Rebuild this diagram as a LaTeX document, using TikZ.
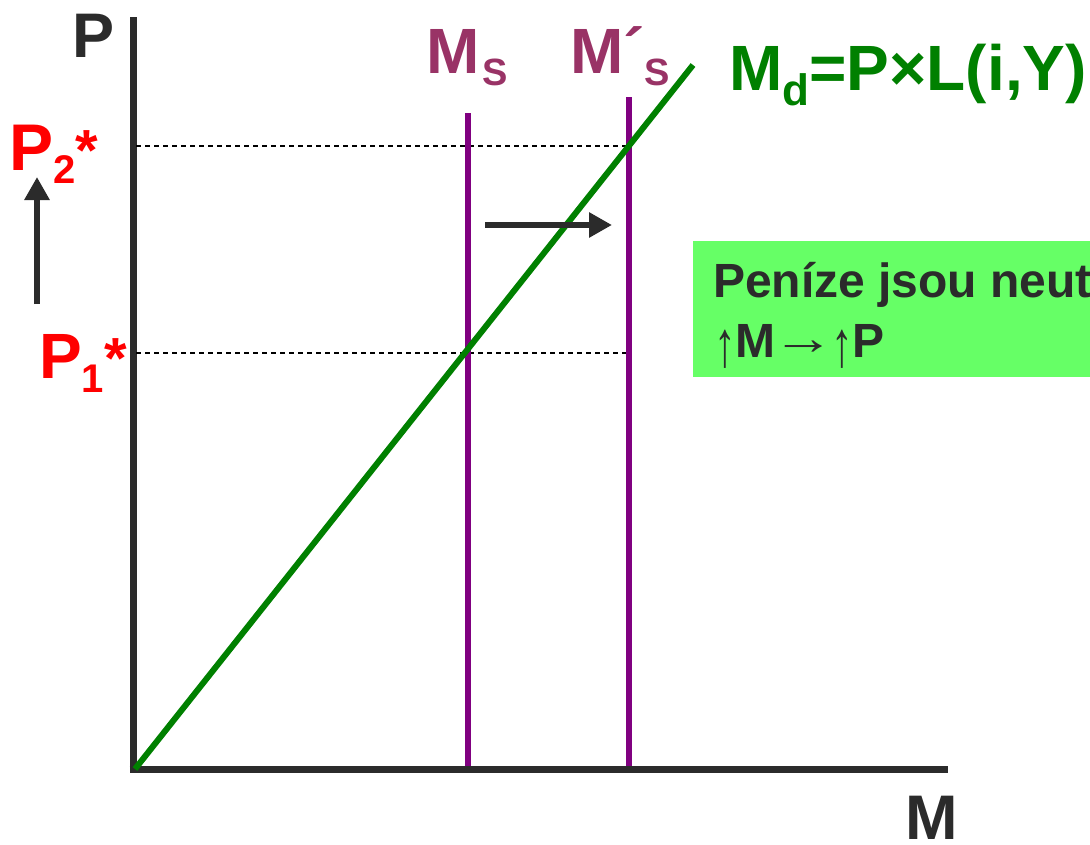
\documentclass[tikz,border=0pt]{standalone}
\usepackage{fontspec}
\setmainfont{Liberation Sans}
\usetikzlibrary{arrows.meta}
\definecolor{ink}{HTML}{2B2B2B}
\definecolor{dgreen}{HTML}{008000}
\definecolor{purp}{HTML}{800080}
\definecolor{mlabel}{HTML}{993366}
\definecolor{boxgreen}{HTML}{66FF66}
\tikzset{
  axis/.style={line width=7pt, ink},
  supply/.style={line width=6pt, purp},
  demand/.style={line width=6pt, dgreen},
  guide/.style={line width=1.1pt, black, dash pattern=on 5pt off 4pt},
  movearrow/.style={line width=6.5pt, ink, -{Triangle[length=23pt,width=24pt]}},
  lbl/.style={inner sep=0pt, anchor=base west, font=\bfseries},
}
\newcommand{\fs}[1]{\fontsize{#1}{#1}\selectfont}
\newcommand{\uparr}{\raisebox{-9pt}{\scalebox{0.9}[1.35]{↑}}}
\newcommand{\rarr}{\kern-3pt\raisebox{3pt}{\scalebox{1.3}[1]{→}}\kern-4pt}
\begin{document}
\begin{tikzpicture}[x=1pt,y=-1pt]
\useasboundingbox (0,0) rectangle (1090,844);
\clip (0,0) rectangle (1090,844);
% axes
\coordinate (O) at (133,769);
\coordinate (Ptop) at (133,17);
\coordinate (Pbot) at (133,772.5);
\coordinate (Mstart) at (129.5,769);
\coordinate (Mend) at (948,769);
\draw[axis] (Ptop) -- (Pbot);
\draw[axis] (Mstart) -- (Mend);
% dashed guides
\coordinate (g2a) at (136,146); \coordinate (g2b) at (627,146);
\coordinate (g1a) at (136,353); \coordinate (g1b) at (627,353);
\draw[guide] (g2a) -- (g2b);
\draw[guide] (g1a) -- (g1b);
% supply lines
\coordinate (s1t) at (468,113); \coordinate (s1b) at (468,766);
\coordinate (s2t) at (629,97);  \coordinate (s2b) at (629,766);
\draw[supply] (s1t) -- (s1b);
\draw[supply] (s2t) -- (s2b);
% demand line
\coordinate (dA) at (135,769); \coordinate (dB) at (693,65);
\draw[demand] (dA) -- (dB);
% shift arrows
\coordinate (h1) at (485,225); \coordinate (h2) at (612,225);
\draw[movearrow] (h1) -- (h2);
\coordinate (v1) at (37,304); \coordinate (v2) at (37,177);
\draw[movearrow] (v1) -- (v2);
% labels
\node[lbl, ink] (Plab) at (72,57) {\fs{63}P};
\node[lbl, ink] (Mlab) at (905,839) {\fs{63}M};
\node[lbl, red] (P2) at (9,170) {\fs{66}P\raisebox{-13pt}{\fs{40}2}\fs{58}*};
\node[lbl, red] (P1) at (39,378) {\fs{64}P\raisebox{-14pt}{\fs{40}1}\fs{58}*};
\node[lbl, mlabel] (MS) at (426,73) {\fs{64}M\hspace{3pt}\raisebox{-12pt}{\fs{38}S}};
\node[lbl, mlabel] (MSp) at (570,73) {\fs{64}M\raisebox{0pt}{´}\raisebox{-12pt}{\fs{38}S}};
\node[lbl, dgreen] (Md) at (729,90) {\fs{64}M\raisebox{-15pt}{\fs{44}d}=P×L(i,Y)};
% info box
\node[fill=boxgreen, inner sep=0pt, minimum width=420pt, minimum height=136pt, anchor=north west] (box) at (693,241) {};
\node[lbl, ink] (t1) at (713,297) {\fs{48}Peníze jsou neutrální};
\node[lbl, ink] (t2) at (714,357) {\fs{48}\uparr M\rarr\uparr P};
\end{tikzpicture}
\end{document}
